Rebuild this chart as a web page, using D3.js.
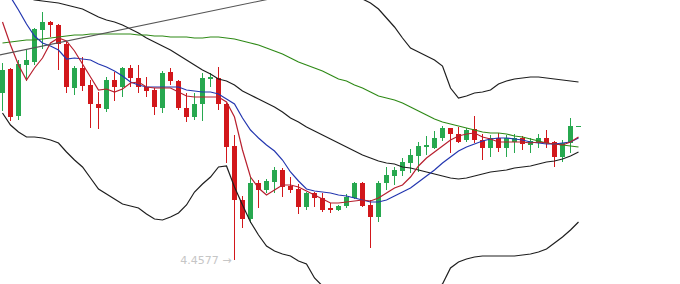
<!DOCTYPE html>
<html>
<head>
<meta charset="utf-8">
<script src="https://cdn.jsdelivr.net/npm/d3@7"></script>
<style>
  html, body { margin: 0; padding: 0; background: #fff; }
  #chart { width: 680px; height: 284px; }
</style>
</head>
<body>
<div id="chart"></div>
<script>
/* candlestick chart with MA lines and bollinger bands */

// OHLC per bar (bar index 0..72)
var opens = [4.4744,4.4768,4.4721,4.4772,4.4775,4.4807,4.4815,4.4812,4.4793,4.4749,
  4.4769,4.4752,4.4733,4.4728,4.4757,4.4750,4.4769,4.4759,4.4750,4.4747,
  4.4729,4.4765,4.4756,4.4729,4.4720,4.4733,4.4758,4.4759,4.4733,4.4691,
  4.4637,4.4618,4.4654,4.4647,4.4655,4.4667,4.4651,4.4648,4.4630,4.4644,
  4.4639,4.4629,4.4627,4.4631,4.4639,4.4654,4.4632,4.4620,4.4654,4.4661,
  4.4666,4.4674,4.4681,4.4690,4.4689,4.4699,4.4709,4.4703,4.4697,4.4708,
  4.4697,4.4689,4.4699,4.4689,4.4695,4.4699,4.4692,4.4694,4.4699,4.4695,
  4.4680,4.4694,4.4710];
var highs = [4.4774,4.4769,4.4777,4.4788,4.4809,4.4825,4.4816,4.4813,4.4796,4.4771,
  4.4780,4.4757,4.4745,4.4760,4.4765,4.4770,4.4772,4.4772,4.4760,4.4749,
  4.4766,4.4769,4.4757,4.4744,4.4744,4.4764,4.4764,4.4770,4.4734,4.4702,
  4.4641,4.4661,4.4657,4.4658,4.4670,4.4669,4.4660,4.4653,4.4645,4.4645,
  4.4644,4.4634,4.4632,4.4643,4.4655,4.4655,4.4637,4.4656,4.4670,4.4670,
  4.4679,4.4688,4.4695,4.4701,4.4706,4.4711,4.4709,4.4710,4.4709,4.4721,
  4.4703,4.4702,4.4704,4.4702,4.4703,4.4701,4.4699,4.4703,4.4707,4.4696,
  4.4697,4.4719,4.4711];
var lows = [4.4726,4.4716,4.4717,4.4756,4.4772,4.4788,4.4800,4.4767,4.4744,4.4742,
  4.4746,4.4709,4.4708,4.4725,4.4736,4.4740,4.4750,4.4744,4.4740,4.4722,
  4.4724,4.4752,4.4727,4.4715,4.4717,4.4716,4.4750,4.4727,4.4674,4.4577,
  4.4609,4.4614,4.4629,4.4644,4.4644,4.4640,4.4644,4.4623,4.4627,4.4630,
  4.4625,4.4624,4.4626,4.4629,4.4638,4.4630,4.4589,4.4615,4.4647,4.4652,
  4.4661,4.4664,4.4665,4.4682,4.4688,4.4696,4.4684,4.4694,4.4695,4.4694,
  4.4677,4.4680,4.4685,4.4680,4.4684,4.4687,4.4684,4.4689,4.4689,4.4670,
  4.4675,4.4684,4.4710];
var closes = [4.4767,4.4720,4.4773,4.4777,4.4808,4.4815,4.4812,4.4793,4.4750,4.4769,
  4.4751,4.4733,4.4729,4.4757,4.4750,4.4769,4.4759,4.4750,4.4746,4.4730,
  4.4764,4.4756,4.4729,4.4720,4.4733,4.4759,4.4760,4.4733,4.4690,4.4637,
  4.4618,4.4654,4.4647,4.4656,4.4667,4.4650,4.4647,4.4630,4.4644,4.4639,
  4.4627,4.4627,4.4631,4.4640,4.4654,4.4631,4.4620,4.4654,4.4662,4.4667,
  4.4675,4.4682,4.4691,4.4692,4.4699,4.4709,4.4703,4.4695,4.4707,4.4697,
  4.4689,4.4699,4.4689,4.4699,4.4699,4.4693,4.4696,4.4699,4.4694,4.4680,
  4.4694,4.4711,4.4711];

// short moving average (red)
var maShort = [4.4815,4.4792,4.4772,4.4757,4.4769,4.4779,4.4794,4.4799,4.4796,4.4786,
  4.4773,4.4760,4.4747,4.4748,4.4745,4.4748,4.4754,4.4755,4.4750,4.4749,
  4.4749,4.4749,4.4745,4.4741,4.4740,4.4740,4.4740,4.4740,4.4735,4.4720,
  4.4687,4.4660,4.4649,4.4642,4.4647,4.4652,4.4652,4.4650,4.4646,4.4642,
  4.4638,4.4634,4.4634,4.4635,4.4636,4.4637,4.4636,4.4639,4.4644,4.4649,
  4.4652,4.4660,4.4671,4.4679,4.4685,4.4691,4.4697,4.4701,4.4703,4.4704,
  4.4700,4.4698,4.4695,4.4695,4.4695,4.4695,4.4694,4.4695,4.4694,4.4693,
  4.4692,4.4695,4.4700];
// medium moving average (blue)
var maMid = [4.4852,4.4840,4.4827,4.4813,4.4801,4.4794,4.4791,4.4787,4.4778,4.4779,
  4.4778,4.4777,4.4773,4.4770,4.4766,4.4761,4.4755,4.4752,4.4750,4.4750,
  4.4750,4.4750,4.4750,4.4747,4.4746,4.4745,4.4745,4.4743,4.4738,4.4733,
  4.4719,4.4707,4.4699,4.4692,4.4686,4.4677,4.4665,4.4656,4.4648,4.4646,
  4.4645,4.4644,4.4642,4.4641,4.4639,4.4637,4.4635,4.4635,4.4637,4.4641,
  4.4645,4.4649,4.4655,4.4661,4.4667,4.4674,4.4680,4.4686,4.4690,4.4693,
  4.4696,4.4698,4.4699,4.4699,4.4698,4.4697,4.4695,4.4694,4.4693,4.4693,
  4.4694,4.4695,4.4699];
// long moving average (green)
var maLong = [4.4794,4.4795,4.4796,4.4797,4.4797,4.4798,4.4799,4.4800,4.4801,4.4802,
  4.4802,4.4803,4.4803,4.4803,4.4803,4.4803,4.4803,4.4802,4.4802,4.4801,
  4.4801,4.4800,4.4800,4.4800,4.4799,4.4799,4.4800,4.4800,4.4799,4.4798,
  4.4796,4.4794,4.4792,4.4789,4.4786,4.4783,4.4779,4.4775,4.4772,4.4769,
  4.4766,4.4762,4.4758,4.4756,4.4752,4.4749,4.4745,4.4741,4.4739,4.4737,
  4.4734,4.4730,4.4726,4.4722,4.4718,4.4715,4.4713,4.4711,4.4709,4.4707,
  4.4705,4.4704,4.4704,4.4703,4.4701,4.4700,4.4698,4.4696,4.4694,4.4693,
  4.4692,4.4691,4.4690];

// bollinger bands (black)
var bollMid = [4.4847,4.4845,4.4842,4.4840,4.4837,4.4836,4.4835,4.4834,4.4832,4.4830,
  4.4828,4.4824,4.4820,4.4817,4.4815,4.4812,4.4808,4.4804,4.4799,4.4795,
  4.4791,4.4787,4.4782,4.4777,4.4772,4.4767,4.4763,4.4758,4.4756,4.4752,
  4.4746,4.4742,4.4738,4.4734,4.4730,4.4725,4.4719,4.4715,4.4710,4.4706,
  4.4702,4.4698,4.4694,4.4690,4.4686,4.4682,4.4679,4.4676,4.4674,4.4673,
  4.4670,4.4669,4.4667,4.4665,4.4663,4.4661,4.4659,4.4658,4.4659,4.4661,
  4.4663,4.4665,4.4666,4.4667,4.4669,4.4670,4.4671,4.4673,4.4675,4.4676,
  4.4678,4.4681,4.4685];
var bollUp = [4.4970,4.4978,4.4979,4.4980,4.4974,4.4973,4.4973,4.4974,4.4979,4.4983,
  4.4986,4.4989,4.4992,4.4991,4.4992,4.4991,4.4985,4.4979,4.4975,4.4972,
  4.4965,4.4954,4.4940,4.4922,4.4899,4.4881,4.4866,4.4851,4.4849,4.4854,
  4.4860,4.4869,4.4874,4.4877,4.4874,4.4867,4.4857,4.4854,4.4847,4.4851,
  4.4849,4.4847,4.4845,4.4843,4.4841,4.4838,4.4834,4.4828,4.4819,4.4810,
  4.4799,4.4789,4.4785,4.4781,4.4777,4.4771,4.4749,4.4739,4.4741,4.4744,
  4.4745,4.4747,4.4753,4.4756,4.4758,4.4759,4.4760,4.4760,4.4759,4.4758,
  4.4757,4.4756,4.4755];
var bollLow = [4.4724,4.4712,4.4705,4.4700,4.4700,4.4699,4.4697,4.4694,4.4685,4.4677,
  4.4670,4.4659,4.4648,4.4643,4.4638,4.4633,4.4631,4.4629,4.4623,4.4618,
  4.4617,4.4620,4.4624,4.4632,4.4645,4.4653,4.4660,4.4670,4.4671,4.4650,
  4.4632,4.4615,4.4602,4.4591,4.4586,4.4583,4.4581,4.4576,4.4573,4.4559,
  4.4551,4.4545,4.4543,4.4537,4.4531,4.4526,4.4524,4.4524,4.4529,4.4536,
  4.4541,4.4549,4.4549,4.4549,4.4549,4.4553,4.4569,4.4575,4.4578,4.4580,
  4.4581,4.4581,4.4581,4.4581,4.4581,4.4582,4.4583,4.4585,4.4588,4.4594,
  4.4600,4.4607,4.4615];

// hand drawn trend line: [bar index, price]
var trendLine = [[-1, 4.4781], [40, 4.4849]];

// lowest low marker
var lowLabel = { bar: 29, price: 4.4577, text: "4.4577 \u2192" };

var width = 680, height = 284;

var svg = d3.select("#chart").append("svg")
    .attr("width", width)
    .attr("height", height);

svg.append("clipPath").attr("id", "plotclip")
  .append("rect").attr("x", 0).attr("y", 0).attr("width", 582).attr("height", height);

var plot = svg.append("g").attr("clip-path", "url(#plotclip)");

// scales: bar index -> x, price -> y
var xScale = d3.scaleLinear().domain([0, 72]).range([2.5, 578.5]);
var yScale = d3.scaleLinear().domain([4.4553, 4.4837]).range([284, 0]);

var bars = d3.range(opens.length).map(function(i) {
    return { i: i, o: opens[i], h: highs[i], l: lows[i], c: closes[i] };
});

var upColor = "#27a84f", downColor = "#d2171b";

// candles
var candle = plot.selectAll(".candle").data(bars).enter().append("g").attr("class", "candle");

candle.append("rect")
    .attr("x", function(d) { return xScale(d.i) - 0.5; })
    .attr("y", function(d) { return yScale(d.h); })
    .attr("width", 1)
    .attr("height", function(d) { return Math.max(1, yScale(d.l) - yScale(d.h)); })
    .style("fill", function(d) { return d.c >= d.o ? upColor : downColor; });

candle.append("rect")
    .attr("x", function(d) { return xScale(d.i) - 2.5; })
    .attr("y", function(d) { return yScale(Math.max(d.o, d.c)); })
    .attr("width", 5)
    .attr("height", function(d) { return Math.max(1, Math.abs(yScale(d.o) - yScale(d.c))); })
    .style("fill", function(d) { return d.c >= d.o ? upColor : downColor; });

// lines
var line = d3.line()
    .x(function(d, i) { return xScale(i); })
    .y(function(d) { return yScale(d); });

var series = [
    { values: bollUp,   color: "#1e1e1e" },
    { values: bollMid,  color: "#1e1e1e" },
    { values: bollLow,  color: "#1e1e1e" },
    { values: maLong,   color: "#2f8a17" },
    { values: maMid,    color: "#2437b0" },
    { values: maShort,  color: "#b8202f" }
];

series.forEach(function(s) {
    plot.append("path")
        .datum(s.values)
        .attr("d", line)
        .style("fill", "none")
        .style("stroke", s.color)
        .style("stroke-width", 1.2);
});

plot.append("path")
    .datum(trendLine)
    .attr("d", d3.line()
        .x(function(d) { return xScale(d[0]); })
        .y(function(d) { return yScale(d[1]); }))
    .style("fill", "none")
    .style("stroke", "#555")
    .style("stroke-width", 1.1);

// low price label
svg.append("text")
    .attr("x", xScale(lowLabel.bar) - 3)
    .attr("y", yScale(lowLabel.price) + 4)
    .style("text-anchor", "end")
    .style("font-family", "DejaVu Sans, sans-serif")
    .style("font-size", "11px")
    .style("fill", "#c6c6c6")
    .text(lowLabel.text);
</script>
</body>
</html>
